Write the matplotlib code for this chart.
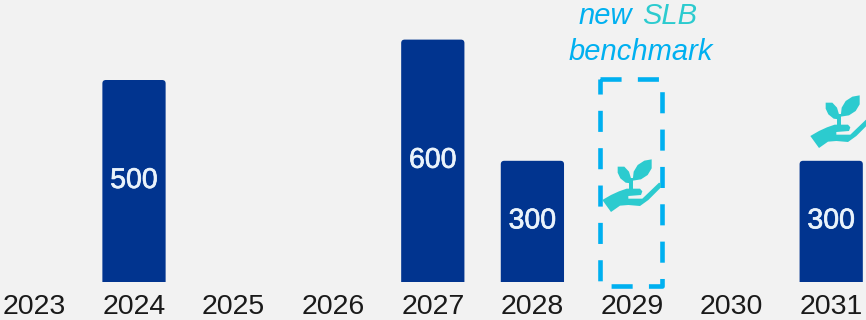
import matplotlib
matplotlib.use('Agg')
import matplotlib.pyplot as plt
import matplotlib.patheffects as pe
from matplotlib.patches import PathPatch
from matplotlib.path import Path
from matplotlib.transforms import Affine2D

plt.rcParams['font.family'] = ['Liberation Sans', 'DejaVu Sans']

years = [2023, 2024, 2025, 2026, 2027, 2028, 2029, 2030, 2031]
amounts = [0, 500, 0, 0, 600, 300, 0, 0, 300]
benchmark_year = 2029
green_years = [2029, 2031]

NAVY = '#01348F'
CYAN = '#00B0F0'
TEAL = '#2CCBCF'
BG = '#F2F2F2'

W, H = 866, 320
PX_YEAR = 99.6
PX_UNIT = 0.404


def x_px(px):
    return 2024 + (px - 134) / PX_YEAR


def y_px(px):
    return (282 - px) / PX_UNIT


def rounded_bar(ax, x, value, width=0.635, r=3.5):
    # square at the base, small radius on the two top corners
    rx = r / PX_YEAR
    ry = r / PX_UNIT
    l, t = x - width / 2, value
    rt = x + width / 2
    verts = [(l, 0), (l, t - ry), (l, t), (l + rx, t), (rt - rx, t), (rt, t), (rt, t - ry), (rt, 0), (l, 0)]
    codes = [Path.MOVETO, Path.LINETO, Path.CURVE3, Path.CURVE3, Path.LINETO,
             Path.CURVE3, Path.CURVE3, Path.LINETO, Path.CLOSEPOLY]
    ax.add_patch(PathPatch(Path(verts, codes), fc=NAVY, ec='none', zorder=2))


# hand and seedling outlines, y pointing down
hand = [(22, 150), (48, 135), (72, 124), (95, 116), (135, 116), (142, 124), (138, 135), (100, 138),
        (100, 146), (142, 146), (192, 98), (197, 100), (198, 112), (160, 150), (135, 168), (100, 165),
        (75, 167), (48, 186), (22, 150)]
leaf_left = [(68, 50), (88, 50), (102, 65), (108, 85), (107, 100), (92, 98), (76, 85), (68, 68)]
leaf_right = [(170, 28), (170, 55), (158, 75), (138, 88), (113, 92), (116, 65), (128, 45), (148, 32)]
stem = [(102, 84), (113, 84), (113, 118), (102, 118), (102, 84)]


def draw_plant(fig, px, py):
    tr = Affine2D().scale(1 / 3, -1 / 3).translate(px, H - py)
    for shape in (hand, leaf_left, leaf_right, stem):
        fig.add_artist(PathPatch(Path(shape + [shape[0]], closed=True), fc=TEAL, ec='none', transform=tr, zorder=3))


fig = plt.figure(figsize=(W / 100, H / 100), dpi=100, facecolor=BG)
ax = fig.add_axes([0, 0, 1, 1])
ax.set_facecolor(BG)
ax.set_xlim(x_px(0), x_px(W))
ax.set_ylim(y_px(H), y_px(0))
ax.axis('off')

for yr, val in zip(years, amounts):
    ax.text(yr, y_px(307), str(yr), ha='center', va='center', fontsize=20.5, color='#1A1A1A')
    if val > 0:
        rounded_bar(ax, yr, val)
        ax.text(yr, val / 2, str(val), ha='center', va='center', fontsize=20.5, color='#EAF3FB', zorder=4,
                path_effects=[pe.withStroke(linewidth=0.5, foreground='#EAF3FB')])

# dashed outline of the upcoming benchmark issue
bx0, bx1 = benchmark_year - 0.325, benchmark_year + 0.305
by0, by1 = y_px(286), y_px(78.5)
ax.plot([bx0, bx1, bx1, bx0, bx0], [by1, by1, by0, by0, by1], color=CYAN, lw=3.3,
        linestyle=(0, (4.6, 3.55)), dash_capstyle='butt', solid_joinstyle='miter', zorder=5)

for yr in green_years:
    draw_plant(fig, 595 + (yr - benchmark_year) * 104, 150 - (yr - benchmark_year) * 32)

ax.text(x_px(579), y_px(24), 'new', fontsize=21, style='italic', color=CYAN, ha='left', va='baseline')
ax.text(x_px(642), y_px(24), 'SLB', fontsize=21, style='italic', color=TEAL, ha='left', va='baseline')
ax.text(x_px(569), y_px(60), 'benchmark', fontsize=21, style='italic', color=CYAN, ha='left', va='baseline')

fig.savefig('out.png', dpi=100, facecolor=BG)
